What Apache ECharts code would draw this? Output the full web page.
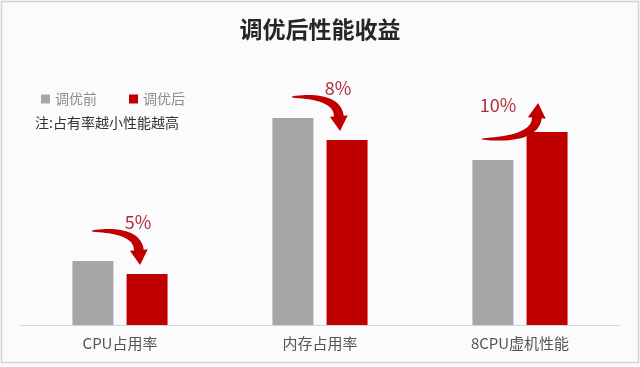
<!DOCTYPE html>
<head>
    <meta charset="utf-8">
    <title>调优后性能收益</title>
    <style>
        html, body {
            width: 100%;
            height: 100%;
            margin: 0;
            background: #fbfbfd;
        }
        #main {
            width: 640px;
            height: 367px;
        }
    </style>
</head>
<body>
<div id="main"></div>
<script src="https://cdn.jsdelivr.net/npm/echarts@6/dist/echarts.min.js"></script>
<script type="text/javascript">
  // data (bar heights, arbitrary units)
  var categories = ['CPU占用率', '内存占用率', '8CPU虚机性能'];
  var before = [64, 207, 165];
  var after = [51, 185, 193];
  var gains = ['5%', '8%', '10%'];

  var FONT = '"Noto Sans CJK SC", "Noto Sans", sans-serif';
  var RED = '#c00000';
  var GRAY = '#a6a6a8';

  var myChart = echarts.init(document.getElementById('main'));

  var option = {
    backgroundColor: '#fbfbfd',
    animation: false,
    title: {
      text: '调优后性能收益',
      left: 'center',
      top: 13,
      textStyle: {fontFamily: FONT, fontSize: 23, fontWeight: 'bold', color: '#262626'}
    },
    legend: {
      left: 36,
      top: 87,
      itemWidth: 9,
      itemHeight: 9,
      itemGap: 32,
      icon: 'rect',
      textStyle: {fontFamily: FONT, fontSize: 14, color: '#8c8c8c'},
      data: ['调优前', '调优后']
    },
    grid: {left: 20, right: 20, top: 25, bottom: 42},
    xAxis: {
      type: 'category',
      data: categories,
      axisLine: {lineStyle: {color: '#d6d6d6', width: 1}},
      axisTick: {show: false},
      axisLabel: {fontFamily: FONT, fontSize: 15, color: '#555', margin: 11}
    },
    yAxis: {
      type: 'value',
      min: 0,
      max: 300,
      show: false
    },
    series: [
      {name: '调优前', type: 'bar', data: before, barWidth: 41, barGap: '32%', itemStyle: {color: GRAY}},
      {name: '调优后', type: 'bar', data: after, barWidth: 41, itemStyle: {color: RED}}
    ]
  };
  myChart.setOption(option);

  // curved arrow as filled polygon, tapering from tail to head
  function arrowPoly(p0, c, tip, maxW, headW, headLen) {
    var dx = tip[0] - c[0], dy = tip[1] - c[1];
    var dl = Math.sqrt(dx * dx + dy * dy);
    dx /= dl; dy /= dl;
    var b = [tip[0] - dx * headLen, tip[1] - dy * headLen];
    var left = [], right = [];
    var N = 24;
    for (var i = 0; i <= N; i++) {
      var s = i / N;
      var x = (1 - s) * (1 - s) * p0[0] + 2 * (1 - s) * s * c[0] + s * s * b[0];
      var y = (1 - s) * (1 - s) * p0[1] + 2 * (1 - s) * s * c[1] + s * s * b[1];
      var tx = 2 * (1 - s) * (c[0] - p0[0]) + 2 * s * (b[0] - c[0]);
      var ty = 2 * (1 - s) * (c[1] - p0[1]) + 2 * s * (b[1] - c[1]);
      var tl = Math.sqrt(tx * tx + ty * ty) || 1;
      var nx = -ty / tl, ny = tx / tl;
      var h = maxW / 2 * Math.pow(s, 0.6) + 0.4;
      left.push([x + nx * h, y + ny * h]);
      right.push([x - nx * h, y - ny * h]);
    }
    var nx2 = -dy, ny2 = dx;
    var pts = left.slice();
    pts.push([b[0] + nx2 * headW / 2, b[1] + ny2 * headW / 2]);
    pts.push(tip);
    pts.push([b[0] - nx2 * headW / 2, b[1] - ny2 * headW / 2]);
    return pts.concat(right.reverse());
  }

  function barLayout(seriesIndex, i) {
    var data = myChart.getModel().getSeriesByIndex(seriesIndex).getData();
    var l = data.getItemLayout(i);
    return {x: l.x + l.width / 2, top: Math.min(l.y, l.y + l.height)};
  }

  var graphics = [
    {
      type: 'text',
      left: 35,
      top: 116,
      style: {text: '注:占有率越小性能越高', fontFamily: FONT, fontSize: 14, fill: '#333'}
    },
    {
      type: 'rect',
      shape: {x: 1.5, y: 1.5, width: 637, height: 361},
      style: {fill: 'none', stroke: '#d4d4d8', lineWidth: 1.5},
      silent: true
    }
  ];

  for (var i = 0; i < categories.length; i++) {
    var g = barLayout(0, i);
    var r = barLayout(1, i);
    var up = after[i] > before[i];
    var p0, tip, c, tx, ty;
    if (up) {
      p0 = [g.x - 11, g.top - 21];
      tip = [r.x - 9, r.top - 29];
      c = [tip[0] - 3, p0[1] + 1];
      tx = g.x + 5;
      ty = p0[1] - 34;
    } else {
      p0 = [g.x - 1, r.top - 43];
      tip = [r.x - 7, r.top - 9];
      c = [tip[0] - 3, p0[1] - 2];
      tx = r.x - 9;
      ty = p0[1] - 9;
    }
    graphics.push({
      type: 'polygon',
      shape: {points: arrowPoly(p0, c, tip, 9, 18, 15)},
      style: {fill: RED},
      silent: true
    });
    graphics.push({
      type: 'text',
      x: tx,
      y: ty,
      style: {
        text: gains[i], fontFamily: FONT, fontSize: 18, fill: '#b0303a',
        align: 'center', verticalAlign: 'middle'
      },
      silent: true
    });
  }

  myChart.setOption({graphic: graphics});
</script>
</body>
